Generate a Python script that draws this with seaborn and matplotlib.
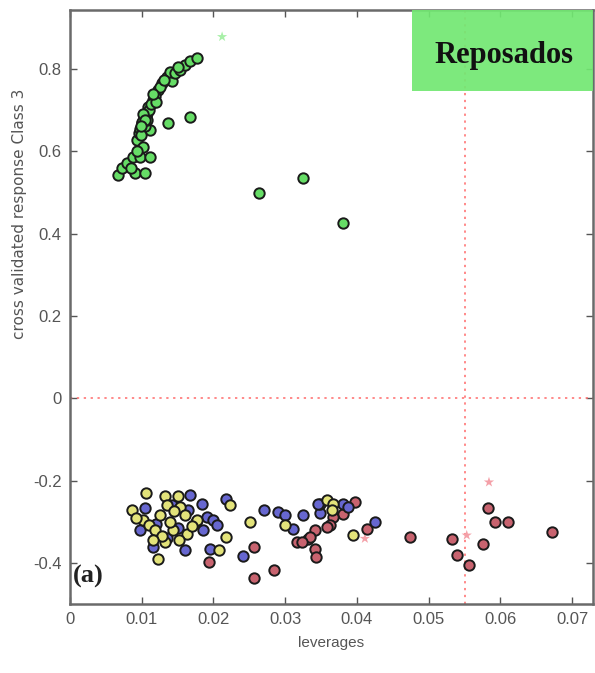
import numpy as np
import pandas as pd
import matplotlib
matplotlib.use("Agg")
import matplotlib.pyplot as plt
import seaborn as sns
from matplotlib.patches import Rectangle

# ---- data ----
green_x = [0.0067, 0.0072, 0.0079, 0.0088, 0.0091, 0.0097, 0.0105, 0.0094, 0.0102, 0.0112,
           0.0096, 0.0098, 0.0100, 0.0103, 0.0107, 0.0109, 0.0116, 0.0112, 0.0123, 0.0128,
           0.0135, 0.0142, 0.0139, 0.0146, 0.0153, 0.0160, 0.0167, 0.0177, 0.0136, 0.0167,
           0.0104, 0.0101, 0.0106, 0.0099, 0.0110, 0.0113, 0.0118, 0.0120, 0.0125, 0.0131,
           0.0085, 0.0093, 0.0108, 0.0115, 0.0150, 0.0102, 0.0105, 0.0099, 0.0264, 0.0325, 0.0380]
green_y = [0.542, 0.558, 0.571, 0.587, 0.546, 0.587, 0.546, 0.628, 0.611, 0.587,
           0.645, 0.655, 0.668, 0.680, 0.692, 0.708, 0.725, 0.652, 0.749, 0.765,
           0.780, 0.770, 0.793, 0.790, 0.797, 0.810, 0.818, 0.826, 0.669, 0.684,
           0.660, 0.672, 0.685, 0.640, 0.700, 0.715, 0.735, 0.720, 0.755, 0.772,
           0.560, 0.600, 0.676, 0.740, 0.805, 0.690, 0.675, 0.662, 0.498, 0.535, 0.425]

blue_x = [0.0105, 0.0142, 0.0167, 0.0165, 0.0184, 0.0191, 0.0200, 0.0205, 0.0098, 0.0116,
          0.0160, 0.0135, 0.0218, 0.0195, 0.0241, 0.0271, 0.0290, 0.0300, 0.0311, 0.0325,
          0.0349, 0.0349, 0.0381, 0.0388, 0.0425, 0.0186, 0.0346, 0.0120, 0.0150, 0.0175]
blue_y = [-0.268, -0.260, -0.236, -0.272, -0.256, -0.289, -0.297, -0.309, -0.321, -0.361,
          -0.370, -0.340, -0.244, -0.366, -0.384, -0.272, -0.276, -0.284, -0.317, -0.284,
          -0.280, -0.256, -0.256, -0.264, -0.301, -0.321, -0.256, -0.305, -0.315, -0.300]

yellow_x = [0.0106, 0.0087, 0.0132, 0.0151, 0.0135, 0.0153, 0.0126, 0.0177, 0.0102, 0.0110,
            0.0144, 0.0163, 0.0122, 0.0152, 0.0132, 0.0223, 0.0251, 0.0218, 0.0207, 0.0300,
            0.0358, 0.0367, 0.0365, 0.0395, 0.0118, 0.0140, 0.0160, 0.0128, 0.0115, 0.0170,
            0.0092, 0.0145]
yellow_y = [-0.230, -0.271, -0.238, -0.238, -0.260, -0.264, -0.284, -0.297, -0.297, -0.309,
            -0.321, -0.329, -0.390, -0.345, -0.350, -0.260, -0.301, -0.337, -0.368, -0.309,
            -0.248, -0.256, -0.272, -0.333, -0.320, -0.300, -0.285, -0.335, -0.345, -0.310,
            -0.290, -0.275]

red_x = [0.0194, 0.0256, 0.0256, 0.0284, 0.0316, 0.0332, 0.0397, 0.0381, 0.0367, 0.0363,
         0.0358, 0.0342, 0.0335, 0.0323, 0.0342, 0.0343, 0.0414, 0.0474, 0.0532, 0.0539,
         0.0556, 0.0576, 0.0583, 0.0593, 0.0611, 0.0672]
red_y = [-0.398, -0.362, -0.436, -0.418, -0.349, -0.341, -0.252, -0.281, -0.289, -0.309,
         -0.313, -0.321, -0.337, -0.349, -0.366, -0.386, -0.317, -0.337, -0.341, -0.382,
         -0.406, -0.354, -0.268, -0.301, -0.301, -0.325]

star_green_x = [0.0212]
star_green_y = [0.878]
star_red_x = [0.0584, 0.0553, 0.0411]
star_red_y = [-0.204, -0.333, -0.341]

x_ticks = [0, 0.01, 0.02, 0.03, 0.04, 0.05, 0.06, 0.07]
x_tick_labels = ["0", "0.01", "0.02", "0.03", "0.04", "0.05", "0.06", "0.07"]
y_ticks = [-0.4, -0.2, 0, 0.2, 0.4, 0.6, 0.8]
y_tick_labels = ["-0.4", "-0.2", "0", "0.2", "0.4", "0.6", "0.8"]
leverage_limit = 0.0551
class_label = "Reposados"
panel_label = "(a)"

# ---- figure ----
sns.set_theme(style="white")
plt.rcParams['font.family'] = ['Liberation Sans Narrow', 'Liberation Sans', 'DejaVu Sans']

fig = plt.figure(figsize=(5.95, 6.73), dpi=100)
ax = fig.add_axes([70 / 595, 1 - 604 / 673, 523 / 595, 594 / 673])

ax.axhline(0, color="#ff6a6a", ls=(0, (1.5, 3)), lw=1.1, zorder=1)
ax.axvline(leverage_limit, color="#ff6a6a", ls=(0, (1.5, 3)), lw=1.1, zorder=1)

common = dict(s=56, edgecolor="#1a1a1a", linewidth=1.4, legend=False, ax=ax, zorder=3)
sns.scatterplot(x=red_x, y=red_y, color="#c8636f", **common)
sns.scatterplot(x=blue_x, y=blue_y, color="#6767d0", **common)
sns.scatterplot(x=yellow_x, y=yellow_y, color="#e3e37a", **common)
sns.scatterplot(x=green_x, y=green_y, color="#66dd66", **common)

sns.scatterplot(x=star_green_x, y=star_green_y, color="#a8f0a8", marker="*", s=60,
                edgecolor="none", legend=False, ax=ax, zorder=2)
sns.scatterplot(x=star_red_x, y=star_red_y, color="#f4a0a8", marker="*", s=60,
                edgecolor="none", legend=False, ax=ax, zorder=2)

ax.set_xlim(0, 0.0729)
ax.set_ylim(-0.50, 0.943)
ax.set_xticks(x_ticks)
ax.set_xticklabels(x_tick_labels)
ax.set_yticks(y_ticks)
ax.set_yticklabels(y_tick_labels)
ax.tick_params(direction="in", length=5, width=1.0, color="#555555",
               labelsize=12, labelcolor="#555555", top=True, right=True,
               bottom=True, left=True, pad=6)
for sp in ax.spines.values():
    sp.set_color("#6a6a6a")
    sp.set_linewidth(1.8)

ax.set_xlabel("leverages", fontsize=11, color="#555555", labelpad=6)
ax.set_ylabel("cross validated response Class 3", fontsize=11, color="#555555",
              family=['DejaVu Sans'])
ax.yaxis.set_label_coords(-0.082, 0.657)

ax.add_patch(Rectangle((0.654, 0.864), 0.346, 0.136, transform=ax.transAxes,
                       facecolor="#72e872", edgecolor="none", alpha=0.92, zorder=4))
ax.text(0.83, 0.924, class_label, transform=ax.transAxes, ha="center", va="center",
        fontsize=22, fontweight="bold", family=['Liberation Serif', 'DejaVu Serif'],
        color="#111111", zorder=5)
ax.text(0.034, 0.047, panel_label, transform=ax.transAxes, ha="center", va="center",
        fontsize=19, fontweight="bold", family=['Liberation Serif', 'DejaVu Serif'],
        color="#222222", zorder=5)

fig.savefig("out.png", dpi=100)
